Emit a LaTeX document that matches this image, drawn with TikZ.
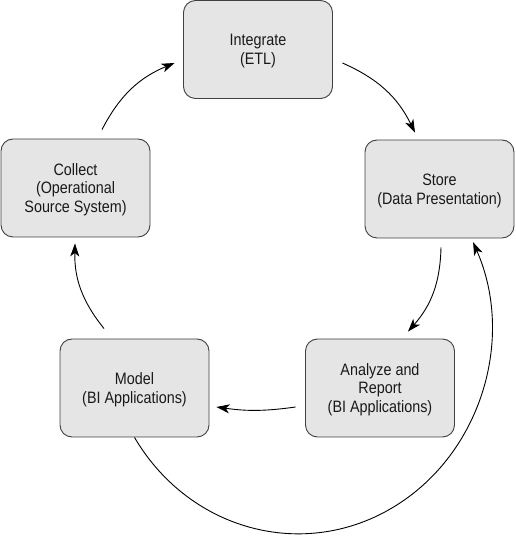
\documentclass[tikz,border=0pt]{standalone}
\usepackage{fontspec}
\setmainfont{Liberation Sans}[FakeStretch=0.87]
\usetikzlibrary{arrows.meta,calc}
\begin{document}
\begin{tikzpicture}[x=1pt,y=1pt,
  stagebox/.style={draw=black!75, line width=0.9pt, fill=gray!20, rounded corners=12pt,
    minimum width=149pt, minimum height=98pt, inner sep=0pt, align=center,
    text depth=-4pt, text=black!90, font=\fontsize{16.5}{18.5}\selectfont},
  arr/.style={-{Stealth[length=13pt,width=9pt,inset=3.5pt]}, line width=0.9pt, black}]
\useasboundingbox (0,0) rectangle (515,536);
\node[stagebox] (int) at (258,486.5) {Integrate\\(ETL)};
\node[stagebox] (store) at (439.5,347) {Store\\(Data Presentation)};
\node[stagebox] (ana) at (380,148) {Analyze and\\Report\\(BI Applications)};
\node[stagebox] (model) at (134.5,148) {Model\\(BI Applications)};
\node[stagebox] (coll) at (75.5,348) {Collect\\(Operational\\Source System)};
% cycle arrows
\draw[arr] ([xshift=26.5pt,yshift=9pt]coll.north) to[bend left=20] ([xshift=-8.5pt,yshift=-13.5pt]int.west);
\draw[arr] ([xshift=9.5pt,yshift=-13.5pt]int.east) to[bend left=20] ([xshift=-24.5pt,yshift=7pt]store.north);
\draw[arr] ([xshift=1.5pt,yshift=-9pt]store.south) to[bend left=20] ([xshift=28pt,yshift=7pt]ana.north);
\draw[arr] ([xshift=-9.5pt,yshift=-19pt]ana.west) to[bend left=8] ([xshift=7pt,yshift=-19pt]model.east);
\draw[arr] ([xshift=-30.5pt,yshift=10pt]model.north) to[bend left=20] ([xshift=-0.5pt,yshift=-6pt]coll.south);
% long return arrow
\draw[arr] (model.south) arc[start angle=212, end angle=385, x radius=193, y radius=205];
\end{tikzpicture}
\end{document}
